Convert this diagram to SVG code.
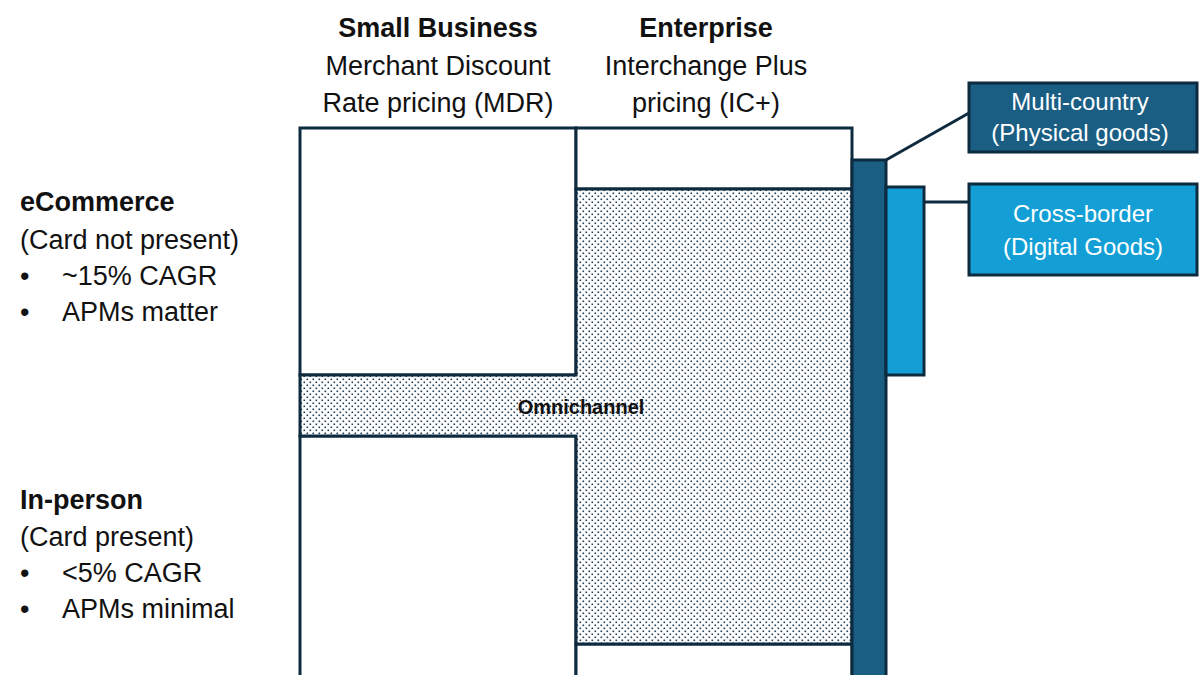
<svg xmlns="http://www.w3.org/2000/svg" width="1200" height="675" viewBox="0 0 1200 675">
<style>
text{font-family:"Liberation Sans",Arial,sans-serif;fill:#111}
.h{font-size:27px;font-weight:bold;text-anchor:middle}
.s{font-size:27px;text-anchor:middle}
.l{font-size:27px}
.lb{font-size:27px;font-weight:bold}
.box{fill:#fff;stroke:#0d2a3f;stroke-width:3}
.w{fill:#fff;font-size:24px;text-anchor:middle}
</style>
<defs>
<pattern id="dots" width="6" height="6" patternUnits="userSpaceOnUse">
<rect width="6" height="6" fill="#fff"/>
<rect x="0.5" y="0.5" width="1.6" height="1.6" fill="#1d3d55"/>
<rect x="3.5" y="3.5" width="1.6" height="1.6" fill="#1d3d55"/>
</pattern>
</defs>
<g id="headers">
<text class="h" x="438" y="37">Small Business</text>
<text class="s" x="438" y="75">Merchant Discount</text>
<text class="s" x="438" y="112">Rate pricing (MDR)</text>
<text class="h" x="706" y="37">Enterprise</text>
<text class="s" x="706" y="75">Interchange Plus</text>
<text class="s" x="706" y="112">pricing (IC+)</text>
</g>
<g id="rowlabels">
<text class="lb" x="20" y="211">eCommerce</text>
<text class="l" x="20" y="249">(Card not present)</text>
<text class="l" x="20" y="285">•</text><text class="l" x="62" y="285">~15% CAGR</text>
<text class="l" x="20" y="321">•</text><text class="l" x="62" y="321">APMs matter</text>
<text class="lb" x="20" y="509">In-person</text>
<text class="l" x="20" y="546">(Card present)</text>
<text class="l" x="20" y="582">•</text><text class="l" x="62" y="582">&lt;5% CAGR</text>
<text class="l" x="20" y="618">•</text><text class="l" x="62" y="618">APMs minimal</text>
</g>
<g id="sb-ecom"><rect class="box" x="300" y="128" width="276" height="247"/></g>
<g id="sb-inperson"><rect class="box" x="300" y="436" width="276" height="245"/></g>
<g id="ent-top"><rect class="box" x="576" y="128" width="276" height="61"/></g>
<g id="ent-bottom"><rect class="box" x="576" y="644" width="276" height="40"/></g>
<g id="omnichannel">
<path d="M300 375H576V189H852V644H576V436H300Z" fill="url(#dots)" stroke="#0d2a3f" stroke-width="3"/>
<text x="581" y="414" style="font-size:20px;font-weight:bold;text-anchor:middle">Omnichannel</text>
</g>
<g id="connectors" stroke="#0d2a3f" stroke-width="3" fill="none">
<line x1="886" y1="160" x2="969" y2="113"/>
<line x1="924" y1="202" x2="969" y2="202"/>
</g>
<g id="bar-multi"><rect x="852" y="160" width="34" height="520" fill="#1a5e84" stroke="#0d2a3f" stroke-width="3"/></g>
<g id="bar-cross"><rect x="886" y="187" width="38" height="188" fill="#139fd6" stroke="#0d2a3f" stroke-width="3"/></g>
<g id="multi-country">
<rect x="969" y="83" width="228" height="69" fill="#1a5e84" stroke="#0d2a3f" stroke-width="3"/>
<text class="w" x="1080" y="110">Multi-country</text>
<text class="w" x="1080" y="141">(Physical goods)</text>
</g>
<g id="cross-border">
<rect x="969" y="184" width="228" height="91" fill="#139fd6" stroke="#0d2a3f" stroke-width="3"/>
<text class="w" x="1083" y="222">Cross-border</text>
<text class="w" x="1083" y="255">(Digital Goods)</text>
</g>
</svg>
